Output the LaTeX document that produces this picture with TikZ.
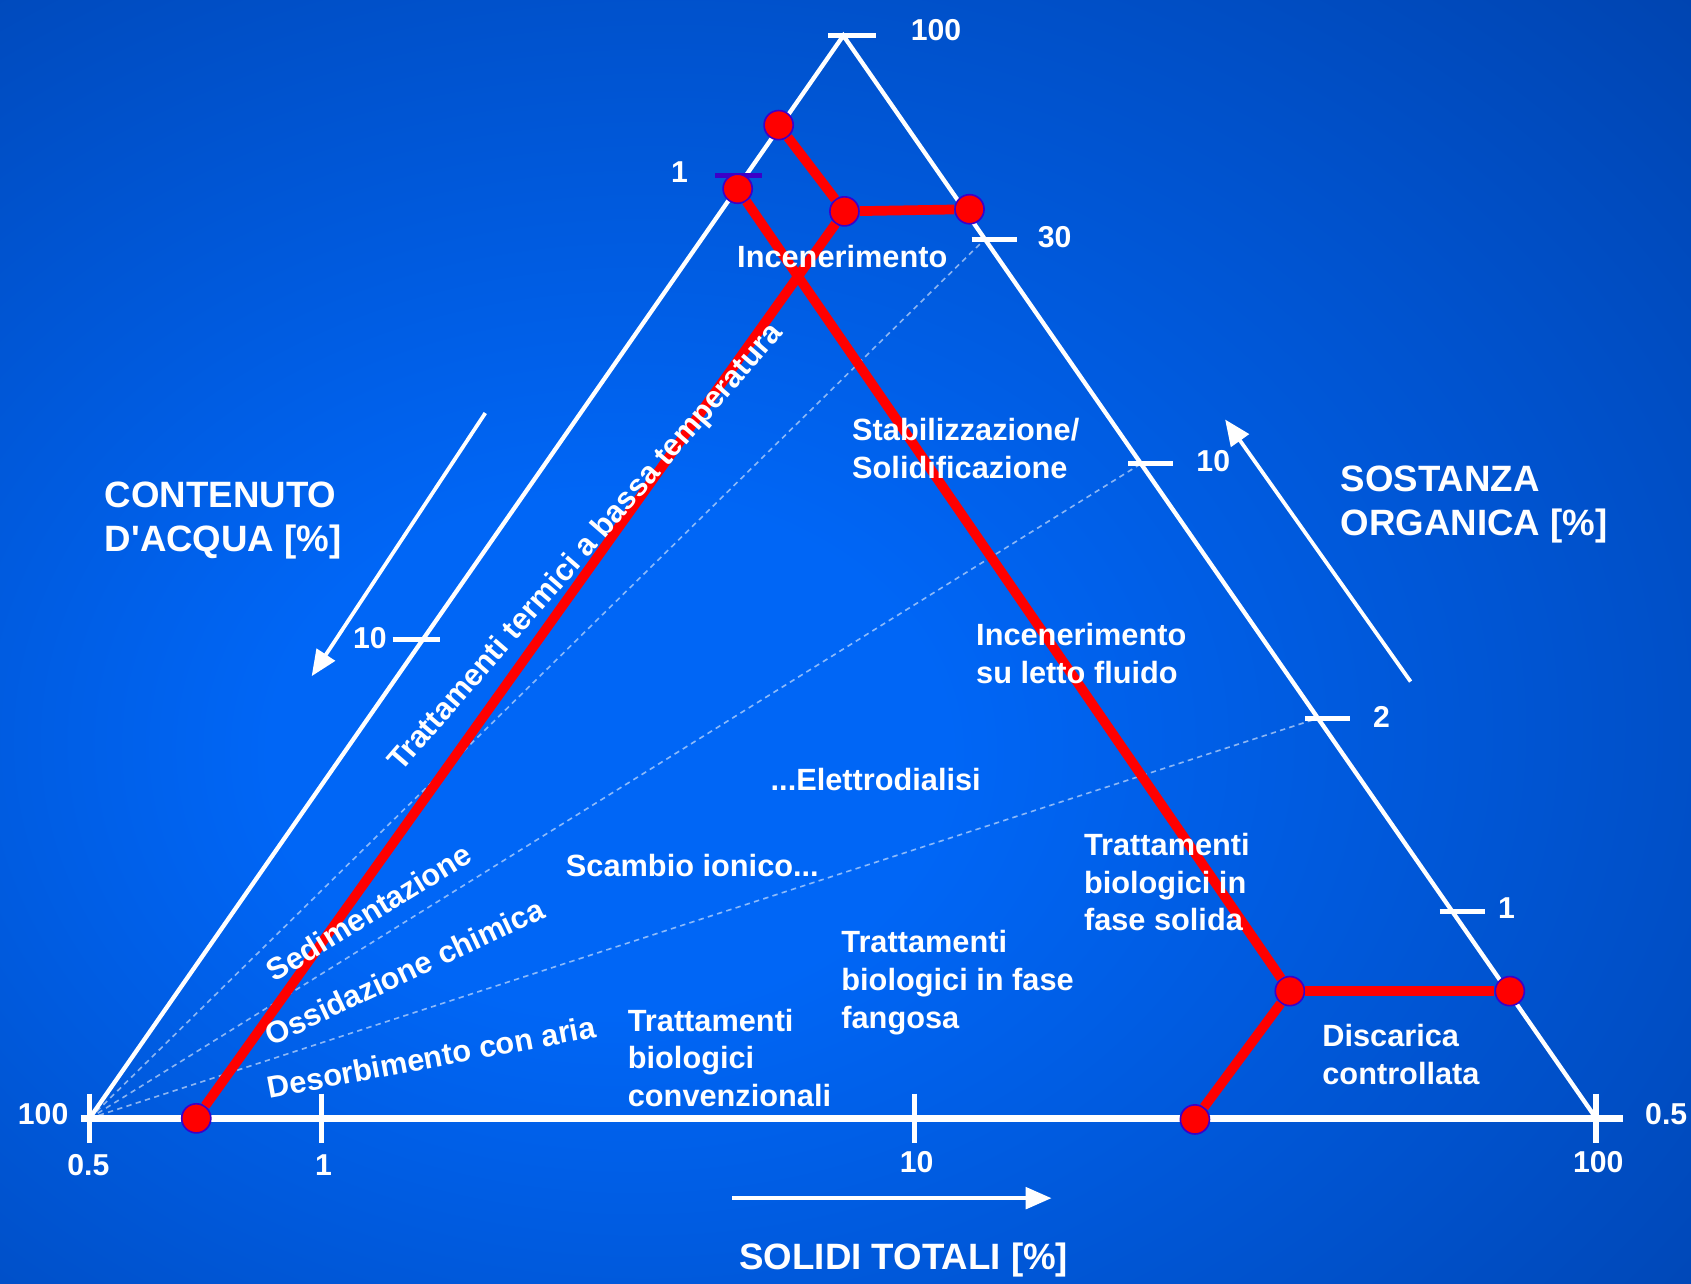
\documentclass[tikz,border=0pt]{standalone}
\usepackage{fontspec}
\setmainfont{Liberation Sans}
\usetikzlibrary{arrows.meta}

\definecolor{bgin}{RGB}{0,102,246}
\definecolor{bgout}{RGB}{0,48,135}
\definecolor{dotred}{RGB}{255,0,0}
\definecolor{dotrim}{RGB}{60,0,200}
\pgfdeclareradialshading{bluebg}{\pgfpoint{-8bp}{-5bp}}{color(0bp)=(bgin); color(10bp)=(bgin); color(58bp)=(bgout); color(80bp)=(bgout)}

\begin{document}
\begin{tikzpicture}[x=1pt, y=-1pt, >={Triangle[length=24pt,width=20pt]},
		trisside/.style={white, line width=4pt},
		axisline/.style={white, line width=6pt},
		scaletick/.style={white, line width=5pt},
		guide/.style={white, opacity=0.55, line width=1.5pt, dash pattern=on 5pt off 4pt},
		redpath/.style={dotred, line width=9pt},
		stage/.style={circle, fill=dotred, draw=dotrim, line width=1.5pt, minimum size=27pt, inner sep=0pt},
		lbl/.style={white, inner sep=0pt, font=\fontsize{28.5}{35}\selectfont\bfseries},
		num/.style={white, inner sep=0pt, font=\fontsize{28}{34}\selectfont\bfseries},
		axtitle/.style={white, inner sep=0pt, align=left, font=\fontsize{34}{41}\selectfont\bfseries},
		flow/.style={white, line width=3.5pt, ->}]

		% Sfondo
		\useasboundingbox (0,0) rectangle (1568,1190);
		\shade[shading=bluebg] (0,0) rectangle (1568,1190);

		% Vertici del triangolo
		\coordinate (L) at (83,1037);
		\coordinate (A) at (782,33);
		\coordinate (R) at (1480,1037);

		% Tacche sui lati
		\coordinate (r30) at (913,222);
		\coordinate (r10) at (1058,430);
		\coordinate (r2) at (1222,666);
		\coordinate (r1) at (1347,845);
		\coordinate (l1) at (691,163);
		\coordinate (l10) at (392,593);
		\coordinate (b1) at (298,1037);
		\coordinate (b10) at (848,1037);

		% Linee tratteggiate
		\draw[guide] (L) -- (r30);
		\draw[guide] (L) -- (r10);
		\draw[guide] (L) -- (r2);

		% Triangolo e asse
		\draw[trisside] (L) -- (A) -- (R);
		\draw[axisline] ([xshift=-8pt]L) -- ([xshift=25pt]R);

		\draw[scaletick] (A) ++(-14,0) -- ++(44,0);
		\foreach \p in {r30,r10,r2,r1}
			\draw[scaletick] (\p) ++(-12,0) -- ++(42,0);
		\draw[scaletick] (l10) ++(-28,0) -- ++(44,0);
		\draw[dotrim, line width=5pt] (l1) ++(-28,0) -- ++(44,0);
		\foreach \p in {L,b1,b10,R}
			\draw[scaletick] (\p) ++(0,-23) -- ++(0,46);

		% Punti
		\node[stage] (p1) at (722,116) {};
		\node[stage] (p2) at (684,175) {};
		\node[stage] (p3) at (783,196) {};
		\node[stage] (p4) at (899,194) {};
		\node[stage] (p5) at (1196,919) {};
		\node[stage] (p6) at (1400,919) {};
		\node[stage] (p7) at (1108,1038) {};
		\node[stage] (p8) at (182,1037) {};

		% Percorsi
		\draw[redpath] (p1) -- (p3);
		\draw[redpath] (p3) -- (p4);
		\draw[redpath] (p3) -- (p8);
		\draw[redpath] (p2) -- (p5);
		\draw[redpath] (p5) -- (p6);
		\draw[redpath] (p5) -- (p7);

		% Valori
		\node[num] (n100t) at (868,28) {100};
		\node[num] (n30) at (978,220) {30};
		\node[num] (n10r) at (1125,428) {10};
		\node[num] (n2) at (1281,665) {2};
		\node[num] (n1r) at (1397,842) {1};
		\node[num] (n1l) at (630,160) {1};
		\node[num] (n10l) at (343,592) {10};
		\node[num] (n100l) at (40,1033) {100};
		\node[num] (n05b) at (82,1080) {0.5};
		\node[num] (n1b) at (300,1080) {1};
		\node[num] (n10b) at (850,1078) {10};
		\node[num] (n100b) at (1482,1078) {100};
		\node[num] (n05r) at (1545,1033) {0.5};

		% Trattamenti
		\node[lbl] (ince) at (781,238) {Incenerimento};
		\node[lbl, align=left, anchor=west] (stab) at (790,416) {Stabilizzazione/\\Solidificazione};
		\node[lbl, align=left, anchor=west] (fluido) at (905,606) {Incenerimento\\su letto fluido};
		\node[lbl] (elettro) at (812,723) {...Elettrodialisi};
		\node[lbl] (scambio) at (642,803) {Scambio ionico...};
		\node[lbl, align=left, anchor=west] (solida) at (1005,818) {Trattamenti\\biologici in\\fase solida};
		\node[lbl, align=left, anchor=west] (fangosa) at (780,911) {Trattamenti\\biologici in fase\\fangosa};
		\node[lbl, align=left, anchor=west] (conv) at (582,981) {Trattamenti\\biologici\\convenzionali};
		\node[lbl, align=left, anchor=west] (discarica) at (1226,978) {Discarica\\controllata};
		\node[lbl, rotate=49] (termici) at (544,508) {Trattamenti termici a bassa temperatura};
		\node[lbl, rotate=31.4] (sedim) at (342,846) {Sedimentazione};
		\node[lbl, rotate=25.2] (ossid) at (375,901) {Ossidazione chimica};
		\node[lbl, rotate=10.6] (desorb) at (400,980) {Desorbimento con aria};

		% Assi
		\node[axtitle, anchor=west] (acqua) at (97,483) {CONTENUTO\\D\textquotesingle ACQUA [\%]};
		\node[axtitle, anchor=west] (organica) at (1243,468) {SOSTANZA\\ORGANICA [\%]};
		\node[axtitle] (solidi) at (838,1168) {SOLIDI TOTALI [\%]};

		\coordinate (wa) at (450,383);
		\coordinate (wb) at (289,627);
		\coordinate (oa) at (1308,632);
		\coordinate (ob) at (1136,389);
		\coordinate (sa) at (679,1111);
		\coordinate (sb) at (975,1111);
		\draw[flow] (wa) -- (wb);
		\draw[flow] (oa) -- (ob);
		\draw[flow] (sa) -- (sb);

	\end{tikzpicture}
\end{document}
